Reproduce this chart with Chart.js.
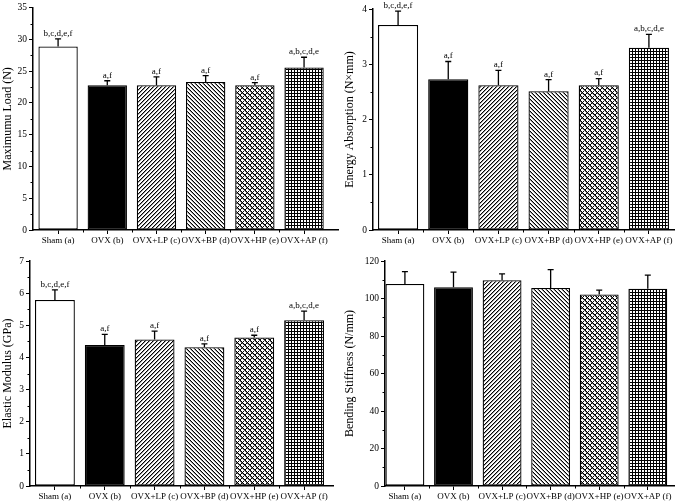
<!DOCTYPE html>
<html>
<head>
<meta charset="utf-8">
<script src="https://cdn.jsdelivr.net/npm/chart.js@4.4.0/dist/chart.umd.min.js"></script>
<style>
body { margin: 0; background: #fff; }
.panel { position: absolute; }
canvas { display: block; }
</style>
</head>
<body>
<div class="panel" style="left:0;top:0"><canvas id="load" width="340" height="250"></canvas></div>
<div class="panel" style="left:335px;top:0"><canvas id="energy" width="340" height="250"></canvas></div>
<div class="panel" style="left:0;top:250px"><canvas id="modulus" width="340" height="254"></canvas></div>
<div class="panel" style="left:335px;top:250px"><canvas id="stiff" width="340" height="254"></canvas></div>
<script>
// groups
var categories = ['Sham (a)', 'OVX (b)', 'OVX+LP (c)', 'OVX+BP (d)', 'OVX+HP (e)', 'OVX+AP (f)'];

// mean + upper error (SD)
var loadMean = [28.9, 22.8, 22.8, 23.3, 22.8, 25.6];
var loadErr = [1.2, 0.7, 1.3, 1.0, 0.4, 1.6];
var energyMean = [3.71, 2.73, 2.62, 2.51, 2.62, 3.30];
var energyErr = [0.25, 0.32, 0.27, 0.21, 0.12, 0.24];
var modulusMean = [5.79, 4.39, 4.56, 4.32, 4.62, 5.16];
var modulusErr = [0.31, 0.33, 0.26, 0.10, 0.07, 0.28];
var stiffMean = [107.7, 106.0, 109.7, 105.6, 102.2, 105.2];
var stiffErr = [6.6, 8.1, 3.4, 9.8, 2.3, 7.3];

// significance letters
var sigLabels = ['b,c,d,e,f', 'a,f', 'a,f', 'a,f', 'a,f', 'a,b,c,d,e'];

var FONT = "'Liberation Serif', 'Times New Roman', serif";

function makePattern(ctx, kind) {
    var p = {lp: 4, bp: 4, hp: 5, ap: 3}[kind];
    var tile = document.createElement('canvas');
    tile.width = p;
    tile.height = p;
    var g = tile.getContext('2d');
    g.fillStyle = '#fff';
    g.fillRect(0, 0, p, p);
    for (var i = 0; i < p; i++) {
        if (kind == 'lp') {
            g.fillStyle = '#000'; g.fillRect(i, p - 1 - i, 1, 1);
            g.fillStyle = '#999'; g.fillRect(i, (p - i) % p, 1, 1);
        } else if (kind == 'bp') {
            g.fillStyle = '#000'; g.fillRect(i, i, 1, 1);
            g.fillStyle = '#999'; g.fillRect(i, (i + 1) % p, 1, 1);
        } else if (kind == 'hp') {
            g.fillStyle = '#000';
            g.fillRect(i, i, 1, 1);
            g.fillRect(i, p - 1 - i, 1, 1);
            g.fillStyle = '#666';
            g.fillRect(i, (i + 1) % p, 1, 1);
        } else {
            g.fillStyle = '#000';
            g.fillRect(i, 0, 1, 1);
            g.fillRect(0, i, 1, 1);
        }
    }
    return ctx.createPattern(tile, 'repeat');
}

function errorBarPlugin(mean, err, labels) {
    return {
        id: 'errorBars',
        afterDatasetsDraw: function (chart) {
            var ctx = chart.ctx;
            var y = chart.scales.y;
            var meta = chart.getDatasetMeta(0);
            ctx.save();
            ctx.strokeStyle = '#000';
            ctx.lineWidth = 1.3;
            ctx.fillStyle = '#000';
            ctx.font = '9px ' + FONT;
            ctx.textAlign = 'center';
            ctx.textBaseline = 'bottom';
            meta.data.forEach(function (bar, i) {
                var top = y.getPixelForValue(mean[i] + err[i]);
                ctx.beginPath();
                ctx.moveTo(bar.x, bar.y);
                ctx.lineTo(bar.x, top);
                ctx.moveTo(bar.x - 3, top);
                ctx.lineTo(bar.x + 3, top);
                ctx.stroke();
                if (labels) {
                    ctx.fillText(labels[i], bar.x, top - 1);
                }
            });
            ctx.restore();
        }
    };
}

var minorTicks = {
    id: 'minorTicks',
    afterDraw: function (chart) {
        var ctx = chart.ctx, xs = chart.scales.x, ys = chart.scales.y, a = chart.chartArea;
        var step = ys.options.ticks.stepSize;
        ctx.save();
        ctx.strokeStyle = '#000';
        ctx.lineWidth = 1;
        ctx.beginPath();
        for (var v = step / 2; v < ys.max; v += step) {
            var py = Math.round(ys.getPixelForValue(v)) + 0.5;
            ctx.moveTo(a.left, py);
            ctx.lineTo(a.left - 2.5, py);
        }
        for (var k = 0.5; k < 5; k += 1) {
            var px = Math.round(xs.getPixelForValue(k)) + 0.5;
            ctx.moveTo(px, a.bottom);
            ctx.lineTo(px, a.bottom + 2.5);
        }
        ctx.stroke();
        ctx.restore();
    }
};

function drawPanel(p) {
    var canvas = document.getElementById(p.id);
    var ctx = canvas.getContext('2d');
    var fills = ['#fff', '#000', makePattern(ctx, 'lp'), makePattern(ctx, 'bp'),
        makePattern(ctx, 'hp'), makePattern(ctx, 'ap')];
    var points = p.mean.map(function (v, i) { return {x: i, y: v}; });
    var W = canvas.width, H = canvas.height;

    new Chart(ctx, {
        type: 'bar',
        data: {
            datasets: [{
                data: points,
                backgroundColor: fills,
                borderColor: '#000',
                borderWidth: 1.3,
                borderSkipped: false,
                categoryPercentage: 0.8,
                barPercentage: 1
            }]
        },
        options: {
            responsive: false,
            animation: false,
            events: [],
            layout: {padding: {left: 0, top: p.area.top, right: W - p.area.right, bottom: 0}},
            plugins: {legend: {display: false}, tooltip: {enabled: false}},
            scales: {
                x: {
                    type: 'linear',
                    min: p.xMin,
                    max: p.xMax,
                    offset: false,
                    grid: {offset: false, drawOnChartArea: false, tickLength: 4, color: '#000', lineWidth: 1},
                    border: {display: true, color: '#000', width: 1.5},
                    afterBuildTicks: function (axis) {
                        axis.ticks = categories.map(function (c, i) { return {value: i}; });
                    },
                    afterFit: function (axis) { axis.height = H - p.area.bottom; },
                    ticks: {
                        autoSkip: false,
                        maxRotation: 0,
                        padding: 1,
                        color: '#000',
                        font: {family: FONT, size: 9},
                        callback: function (v, i) { return categories[i]; }
                    }
                },
                y: {
                    min: 0,
                    max: p.max,
                    grid: {drawOnChartArea: false, tickLength: 4, color: '#000', lineWidth: 1},
                    border: {display: true, color: '#000', width: 1.5},
                    afterFit: function (axis) { axis.width = p.area.left; },
                    ticks: {
                        stepSize: p.step,
                        padding: 2,
                        color: '#000',
                        font: {family: FONT, size: 9.5}
                    },
                    title: {
                        display: true,
                        text: p.title,
                        color: '#000',
                        padding: {top: p.titlePad, bottom: 0},
                        font: {family: FONT, size: 12}
                    }
                }
            }
        },
        plugins: [errorBarPlugin(p.mean, p.err, p.labels), minorTicks]
    });
}

drawPanel({id: 'load', title: 'Maximumu Load (N)', mean: loadMean, err: loadErr, labels: sigLabels,
    max: 35, step: 5, xMin: -0.51, xMax: 5.69, titlePad: 1,
    area: {left: 33, top: 6, right: 338, bottom: 230}});
drawPanel({id: 'energy', title: 'Energy Absorption (N\u00d7mm)', mean: energyMean, err: energyErr, labels: sigLabels,
    max: 4, step: 1, xMin: -0.5, xMax: 5.52, titlePad: 8,
    area: {left: 38, top: 9, right: 340, bottom: 230}});
drawPanel({id: 'modulus', title: 'Elastic Modulus (GPa)', mean: modulusMean, err: modulusErr, labels: sigLabels,
    max: 7, step: 1, xMin: -0.5, xMax: 5.58, titlePad: 1,
    area: {left: 30, top: 11, right: 333, bottom: 236}});
drawPanel({id: 'stiff', title: 'Bending Stiffness (N/mm)', mean: stiffMean, err: stiffErr, labels: null,
    max: 120, step: 20, xMin: -0.41, xMax: 5.56, titlePad: 8,
    area: {left: 50, top: 11, right: 340, bottom: 236}});
</script>
</body>
</html>
